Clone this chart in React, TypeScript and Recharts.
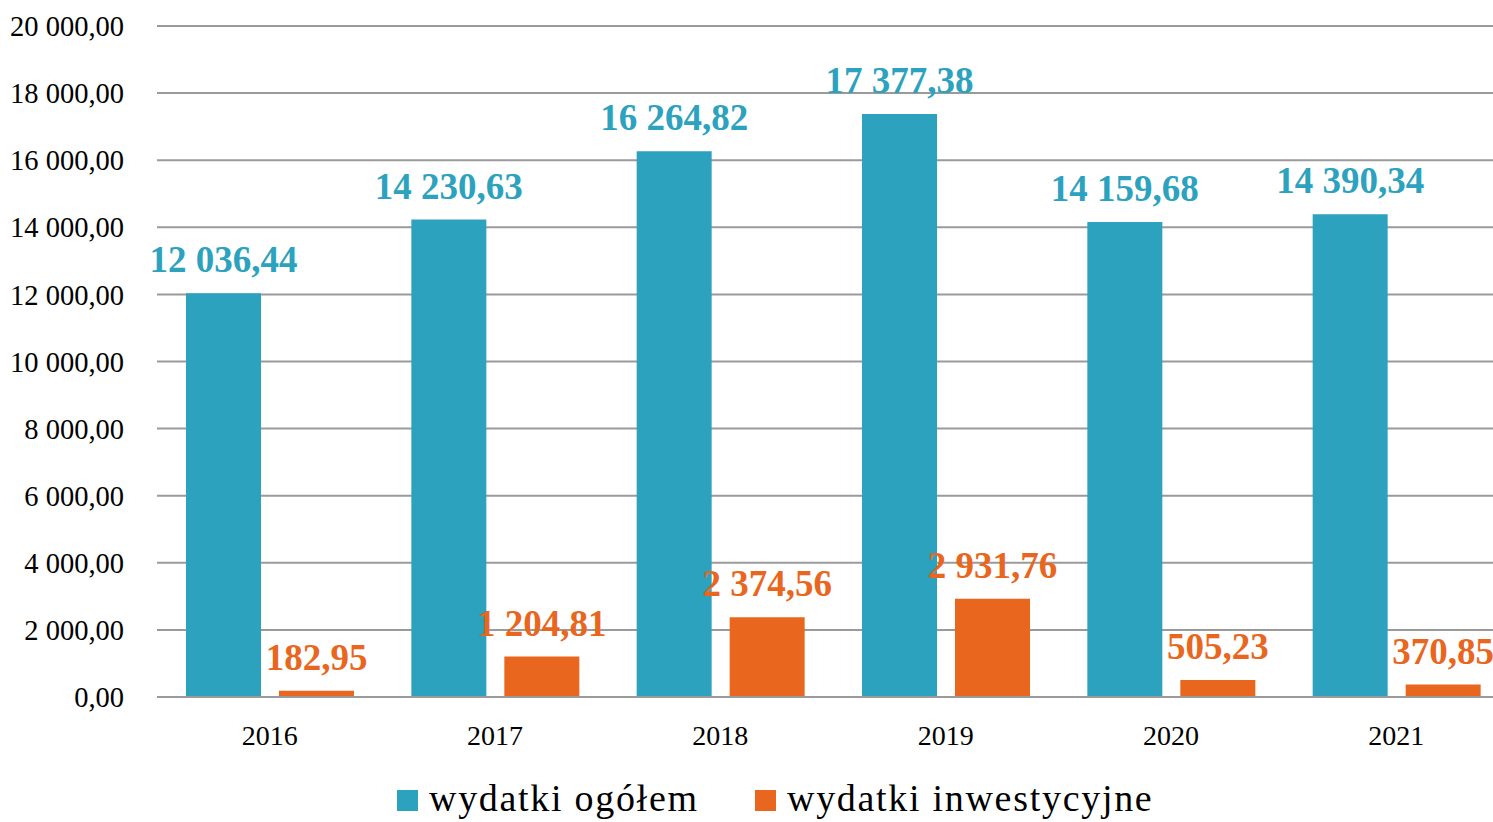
import React from "react";
import { BarChart, Bar, XAxis, YAxis, CartesianGrid, Legend, LabelList } from "recharts";

const years = ["2016", "2017", "2018", "2019", "2020", "2021"];
const totalSpending = [12036.44, 14230.63, 16264.82, 17377.38, 14159.68, 14390.34];
const investmentSpending = [182.95, 1204.81, 2374.56, 2931.76, 505.23, 370.85];
const yTicks = [0, 2000, 4000, 6000, 8000, 10000, 12000, 14000, 16000, 18000, 20000];

const BLUE = "#2CA2BF";
const ORANGE = "#E9661E";
const FONT = "'Liberation Serif', 'DejaVu Serif', serif";

const data = years.map((y, i) => ({
  year: y,
  total: totalSpending[i],
  invest: investmentSpending[i],
}));

const fmt = (v: number) => {
  const [int, dec] = Number(v).toFixed(2).split(".");
  const withSep = int.replace(/\B(?=(\d{3})+(?!\d))/g, " ");
  return `${withSep},${dec}`;
};

const legendText: React.CSSProperties = {
  fontFamily: FONT,
  fontSize: 38,
  lineHeight: "44px",
  letterSpacing: 1.7,
  color: "#000",
  whiteSpace: "nowrap",
};

const LegendContent = () => (
  <div style={{ display: "flex", alignItems: "flex-start", paddingLeft: 397 }}>
    <div style={{ width: 21, height: 21, background: BLUE, marginTop: 14, marginRight: 11 }} />
    <span style={{ ...legendText, width: 326 }}>wydatki ogółem</span>
    <div style={{ width: 21, height: 21, background: ORANGE, marginTop: 14, marginRight: 11 }} />
    <span style={legendText}>wydatki inwestycyjne</span>
  </div>
);

export default function App() {
  return (
    <div
      style={{
        position: "absolute",
        left: 0,
        top: 0,
        width: 1493,
        height: 822,
        overflow: "hidden",
        background: "#fff",
      }}
    >
      <BarChart
        width={1509}
        height={822}
        data={data}
        margin={{ top: 26, right: 0, bottom: 0, left: 0 }}
        barGap={18}
        barSize={75}
      >
        <CartesianGrid vertical={false} stroke="#9a9a9a" strokeWidth={2} />
        <XAxis
          dataKey="year"
          tickLine={false}
          axisLine={{ stroke: "#9a9a9a", strokeWidth: 2 }}
          height={64}
          tickMargin={22}
          tick={{ fontFamily: FONT, fontSize: 28, fill: "#000" }}
        />
        <YAxis
          width={157}
          domain={[0, 20000]}
          ticks={yTicks}
          interval={0}
          tickLine={false}
          axisLine={false}
          tickMargin={27}
          tickFormatter={fmt}
          tick={{ fontFamily: FONT, fontSize: 28.5, fill: "#000" }}
        />
        <Legend
          verticalAlign="bottom"
          height={61}
          content={<LegendContent />}
          wrapperStyle={{ left: 0, top: 776, width: 1509 }}
        />
        <Bar dataKey="total" fill={BLUE} isAnimationActive={false}>
          <LabelList
            dataKey="total"
            position="top"
            offset={21}
            formatter={fmt}
            style={{ fontFamily: FONT, fontSize: 37, fontWeight: "bold", fill: BLUE }}
          />
        </Bar>
        <Bar dataKey="invest" fill={ORANGE} isAnimationActive={false}>
          <LabelList
            dataKey="invest"
            position="top"
            offset={21}
            formatter={fmt}
            style={{ fontFamily: FONT, fontSize: 37, fontWeight: "bold", fill: ORANGE }}
          />
        </Bar>
      </BarChart>
    </div>
  );
}
